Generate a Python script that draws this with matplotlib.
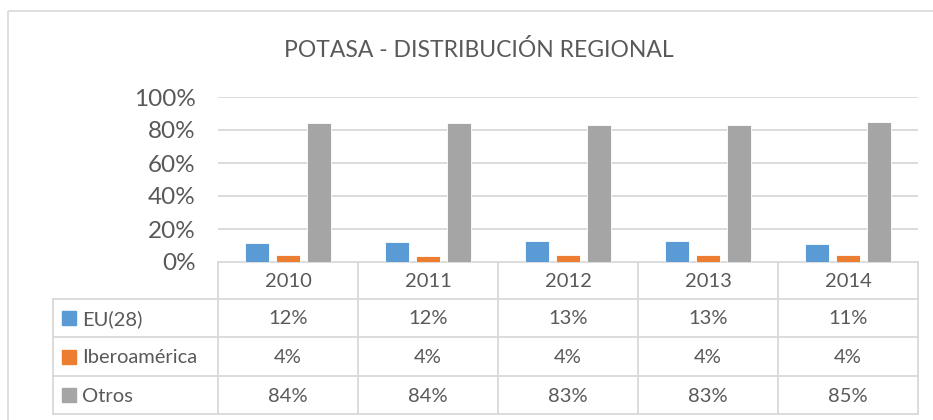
import matplotlib
matplotlib.use("Agg")
import matplotlib.pyplot as plt
from matplotlib.patches import Rectangle

# ---- data ----
years = ["2010", "2011", "2012", "2013", "2014"]
series_names = ["EU(28)", "Iberoamérica", "Otros"]
eu28 = [11.6, 11.9, 12.9, 12.6, 11.1]
ibero = [4.2, 3.6, 4.2, 4.2, 4.2]
otros = [84.2, 84.4, 82.9, 83.2, 84.7]
title = "POTASA - DISTRIBUCIÓN REGIONAL"
yticks = [0, 20, 40, 60, 80, 100]

colors = ["#5B9BD5", "#ED7D31", "#A5A5A5"]
txt = "#595959"
grid = "#D9D9D9"
FONT = ["Lato", "DejaVu Sans"]
plt.rcParams["font.family"] = FONT

W, H = 933, 420
fig = plt.figure(figsize=(W / 100, H / 100), dpi=100)

# overlay axes in pixel coordinates
ov = fig.add_axes([0, 0, 1, 1])
ov.set_xlim(0, W)
ov.set_ylim(H, 0)
ov.axis("off")

# outer chart border
ov.add_patch(Rectangle((8, 11), 940, 430, fill=False, edgecolor=grid, lw=1.2, clip_on=False))

# plot area
L, R, T, B = 218, 918, 97, 262
ax = fig.add_axes([L / W, (H - B) / H, (R - L) / W, (B - T) / H])
ax.set_xlim(-0.5, len(years) - 0.5)
ax.set_ylim(0, 100)
for s in ax.spines.values():
    s.set_visible(False)
ax.set_yticks(yticks)
ax.set_yticklabels([f"{v}%" for v in yticks], fontsize=17.5, color=txt)
ax.tick_params(axis="y", length=0, pad=16)
ax.set_xticks([])
ax.grid(axis="y", color=grid, lw=1.3)
ax.set_axisbelow(True)

bw = 24 / 140
off = 31 / 140
xs = list(range(len(years)))
for k, (vals, c) in enumerate(zip([eu28, ibero, otros], colors)):
    ax.bar([x + (k - 1) * off for x in xs], vals, width=bw, color=c,
           edgecolor="white", linewidth=0.6, zorder=3)

fig.text(479 / W, 1 - 50 / H, title, ha="center", va="center", fontsize=16.5, color=txt)

# ---- data table ----
colw = (R - L) / len(years)
lab_left = 53
rows_y = [262, 299, 337, 376, 414]
lc = grid
lw = 1.3
ov.plot([L, R], [rows_y[0], rows_y[0]], color=lc, lw=lw)
for y in rows_y[1:]:
    ov.plot([lab_left, R], [y, y], color=lc, lw=lw)
for i in range(len(years) + 1):
    x = L + i * colw
    ov.plot([x, x], [rows_y[0], rows_y[-1]], color=lc, lw=lw)
ov.plot([lab_left, lab_left], [rows_y[1], rows_y[-1]], color=lc, lw=lw)

fs_tab = 14.5
for i, yr in enumerate(years):
    ov.text(L + (i + 0.5) * colw, (rows_y[0] + rows_y[1]) / 2 + 1, yr,
            ha="center", va="center", fontsize=fs_tab, color=txt)

all_vals = [eu28, ibero, otros]
for r, (name, vals, c) in enumerate(zip(series_names, all_vals, colors)):
    yc = (rows_y[r + 1] + rows_y[r + 2]) / 2
    ov.add_patch(Rectangle((62, yc - 7), 14, 14, color=c))
    ov.text(82, yc + 1, name, ha="left", va="center", fontsize=fs_tab, color=txt)
    for i, v in enumerate(vals):
        ov.text(L + (i + 0.5) * colw, yc + 1, f"{round(v)}%",
                ha="center", va="center", fontsize=fs_tab, color=txt)

fig.savefig("out.png", dpi=100)
